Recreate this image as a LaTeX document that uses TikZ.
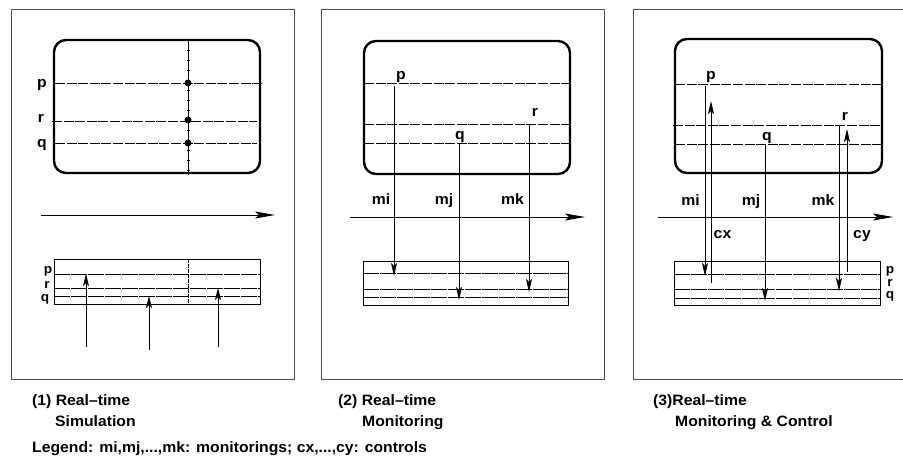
\documentclass[tikz,border=0pt]{standalone}
\usepackage{fontspec}
\setmainfont[FakeStretch=1.05]{Liberation Sans}
\usetikzlibrary{arrows.meta}
\tikzset{
  panel/.style={draw=black!70, line width=0.9pt},
  screen/.style={draw, line width=2.4pt, rounded corners=12pt},
  track/.style={draw, line width=0.9pt, dash pattern=on 10pt off 1.6pt},
  stripline/.style={draw, line width=0.9pt, dash pattern=on 16pt off 1pt},
  stripbox/.style={draw, line width=0.9pt},
  timeaxis/.style={line width=0.9pt, -{Stealth[length=20pt,width=7pt,inset=4pt]}},
  sig/.style={line width=0.9pt, -{Stealth[length=13pt,width=6pt,inset=3pt]}},
  simarrow/.style={line width=0.9pt, -{Stealth[length=12pt,width=6pt,inset=3pt]}},
  lbl/.style={font=\bfseries\fontsize{15}{18}\selectfont, inner sep=0pt, anchor=base},
  stacklbl/.style={font=\bfseries\fontsize{13}{15}\selectfont, inner sep=0pt, anchor=base},
  captext/.style={font=\bfseries\fontsize{15}{18}\selectfont, inner sep=0pt, anchor=base west},
  dot/.style={circle, fill, inner sep=0pt, minimum size=7pt},
}
\begin{document}
\begin{tikzpicture}[x=1pt, y=-1pt]
\useasboundingbox (0,0) rectangle (903,470);

% ---------- panel frames ----------
\draw[panel] (11,9) rectangle (294,379);
\draw[panel] (321,9) rectangle (604,379);
\draw[panel] (903,9) -- (633,9) -- (633,379) -- (903,379);

% ================= (1) simulation =================
\draw[screen] (54,40) rectangle (260,173);
\draw[track] (55,83) -- (262,83);
\draw[track] (52,121) -- (257,121);
\draw[track] (55,143) -- (257,143);
\draw[line width=0.8pt] (188,40) -- (188,175);
\foreach \y in {50,60,...,170} \draw[line width=0.5pt] (186.5,\y) -- (189.5,\y);
\node[dot] (d1p) at (188,83) {};
\node[dot] (d1r) at (188,120) {};
\node[dot] (d1q) at (188,143) {};
\node[lbl] (l1p) at (42,87.5) {p};
\node[lbl] (l1r) at (41,123) {r};
\node[lbl] (l1q) at (42,148) {q};

\coordinate (t1s) at (41,215);
\coordinate (t1e) at (275,215);
\draw[timeaxis] (t1s) -- (t1e);

\draw[stripbox] (54,259) rectangle (260,304);
\draw[stripline] (54,274.5) -- (260,274.5);
\draw[stripline] (54,288) -- (260,288);
\draw[stripline] (54,296) -- (260,296);
\draw[line width=0.8pt, dash pattern=on 4pt off 1pt] (188,259) -- (188,304);
\node[stacklbl] (s1p) at (48,273.5) {p};
\node[stacklbl] (s1r) at (47,288.5) {r};
\node[stacklbl] (s1q) at (45,302) {q};

\coordinate (u1a) at (86,347);  \coordinate (u1at) at (86,274);
\coordinate (u1b) at (149,350); \coordinate (u1bt) at (149,296);
\coordinate (u1c) at (218,347); \coordinate (u1ct) at (218,288);
\draw[simarrow] (u1a) -- (u1at);
\draw[simarrow] (u1b) -- (u1bt);
\draw[simarrow] (u1c) -- (u1ct);

% ================= (2) monitoring =================
\draw[screen] (364,41) rectangle (570,174);
\draw[track] (364,83) -- (570,83);
\draw[track] (364,124) -- (570,124);
\draw[track] (364,143) -- (570,143);
\node[lbl] (l2p) at (401,80) {p};
\node[lbl] (l2r) at (535,117) {r};
\node[lbl] (l2q) at (460,140) {q};

\coordinate (t2s) at (350,217);
\coordinate (t2e) at (585,217);
\draw[timeaxis] (t2s) -- (t2e);
\node[lbl] (m2i) at (381,205) {mi};
\node[lbl] (m2j) at (444,205) {mj};
\node[lbl] (m2k) at (512.5,205) {mk};

\draw[stripbox] (363,261) rectangle (568,305);
\draw[stripline] (363,273) -- (568,273);
\draw[stripline] (363,289) -- (568,289);
\draw[stripline] (363,297) -- (568,297);

\coordinate (a2i) at (394,86);  \coordinate (b2i) at (394,276);
\coordinate (a2j) at (459,143); \coordinate (b2j) at (459,300);
\coordinate (a2k) at (529,124); \coordinate (b2k) at (529,292);
\draw[sig] (a2i) -- (b2i);
\draw[sig] (a2j) -- (b2j);
\draw[sig] (a2k) -- (b2k);

% ================= (3) monitoring & control =================
\draw[screen] (675,39) rectangle (882,173);
\draw[track] (675,84) -- (882,84);
\draw[track] (673,125) -- (882,125);
\draw[track] (675,144) -- (882,144);
\node[lbl] (l3p) at (711,80) {p};
\node[lbl] (l3r) at (845,121) {r};
\node[lbl] (l3q) at (767,141) {q};

\coordinate (t3s) at (658,217);
\coordinate (t3e) at (893,217);
\draw[timeaxis] (t3s) -- (t3e);
\node[lbl] (m3i) at (690.5,206) {mi};
\node[lbl] (m3j) at (751,206) {mj};
\node[lbl] (m3k) at (823,206) {mk};
\node[lbl] (c3x) at (722.5,239) {cx};
\node[lbl] (c3y) at (862,239) {cy};

\draw[stripbox] (674,261) rectangle (880,305);
\draw[stripline] (674,274) -- (880,274);
\draw[stripline] (674,289) -- (880,289);
\draw[stripline] (674,298) -- (880,298);
\node[stacklbl] (s3p) at (890,274) {p};
\node[stacklbl] (s3r) at (890,287) {r};
\node[stacklbl] (s3q) at (890,299) {q};

\coordinate (a3i) at (705,86);  \coordinate (b3i) at (705,276);
\coordinate (a3j) at (765,144); \coordinate (b3j) at (765,301);
\coordinate (a3k) at (839,125); \coordinate (b3k) at (839,291);
\draw[sig] (a3i) -- (b3i);
\draw[sig] (a3j) -- (b3j);
\draw[sig] (a3k) -- (b3k);
\coordinate (a3x) at (711,283); \coordinate (b3x) at (711,101);
\coordinate (a3y) at (847,272); \coordinate (b3y) at (847,129);
\draw[sig] (a3x) -- (b3x);
\draw[sig] (a3y) -- (b3y);

% ---------- captions ----------
\node[captext] (cap1a) at (32,406) {(1) Real\textendash time};
\node[captext] (cap1b) at (55,427) {Simulation};
\node[captext] (cap2a) at (338,406) {(2) Real\textendash time};
\node[captext] (cap2b) at (362,427) {Monitoring};
\node[captext] (cap3a) at (653,406) {(3)Real\textendash time};
\node[captext] (cap3b) at (675,427) {Monitoring \& Control};
\node[captext] (legend) at (32,453) {Legend: mi,mj,...,mk: monitorings; cx,...,cy: controls};
\end{tikzpicture}
\end{document}
